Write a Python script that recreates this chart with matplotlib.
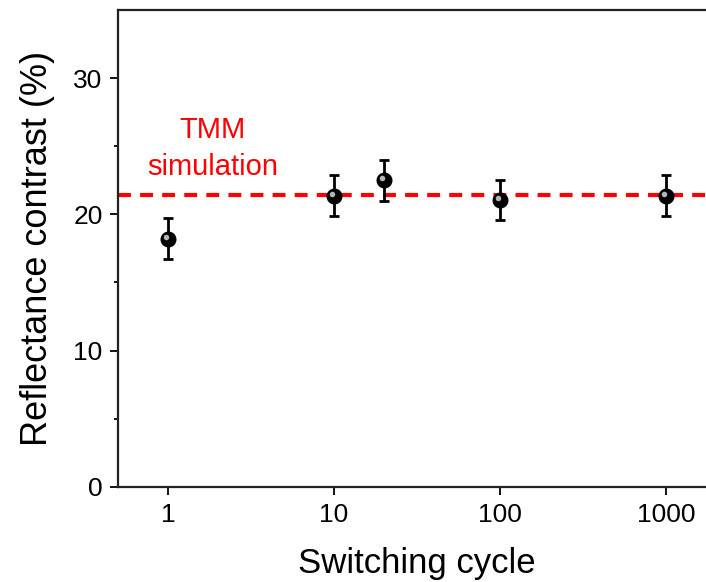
import matplotlib
matplotlib.use("Agg")
from matplotlib import pyplot as plt
from matplotlib import transforms
from matplotlib.ticker import FixedLocator, NullLocator

cycles = [1, 10, 20, 100, 1000]
contrast = [18.2, 21.35, 22.5, 21.05, 21.35]
contrast_err = [1.5, 1.5, 1.5, 1.5, 1.5]
tmm_value = 21.45
x_ticks = [1, 10, 100, 1000]
x_tick_labels = ["1", "10", "100", "1000"]
y_ticks = [0, 10, 20, 30]

plt.rcParams["font.family"] = ["Liberation Sans", "DejaVu Sans"]

fig = plt.figure(figsize=(7.06, 5.82), dpi=100)
ax = fig.add_axes([118 / 706, 1 - 486.7 / 582, 598 / 706, 476.7 / 582])

ax.axhline(tmm_value, color="#ff0000", lw=3, dashes=(3.1, 2.2), zorder=1)

ax.errorbar(cycles, contrast, yerr=contrast_err, fmt="o", color="black",
            ms=10.5, elinewidth=2, capsize=3.8, capthick=2, zorder=3)
# little highlight so the dots look like spheres
shift = transforms.ScaledTranslation(-1.5 / 72, 1.5 / 72, fig.dpi_scale_trans)
ax.plot(cycles, contrast, "o", color="#b4b4b4", ms=4, mew=0,
        transform=ax.transData + shift, zorder=4)

ax.text(1.85, 26.2, "TMM", color="#ff0000", fontsize=21, ha="center", va="center")
ax.text(1.85, 23.5, "simulation", color="#ff0000", fontsize=21, ha="center", va="center")

ax.set_xscale("log")
ax.set_xlim(0.5, 2000)
ax.set_ylim(0, 35)
ax.xaxis.set_major_locator(FixedLocator(x_ticks))
ax.xaxis.set_minor_locator(NullLocator())
ax.set_xticklabels(x_tick_labels)
ax.set_yticks(y_ticks)
ax.set_yticks([5, 15, 25], minor=True)

ax.tick_params(axis="both", which="major", direction="out", length=6, width=1.3,
               labelsize=19, colors="black")
ax.tick_params(axis="y", which="minor", direction="out", length=3, width=1.3)
ax.tick_params(axis="x", pad=6)
ax.tick_params(axis="y", pad=5)

for s in ["left", "bottom", "top"]:
    ax.spines[s].set_linewidth(1.6)
    ax.spines[s].set_color("#222222")
ax.spines["right"].set_visible(False)

ax.set_xlabel("Switching cycle", fontsize=25, labelpad=14)
ax.set_ylabel("Reflectance contrast (%)", fontsize=26, labelpad=13)

fig.savefig("out.png", dpi=100)
